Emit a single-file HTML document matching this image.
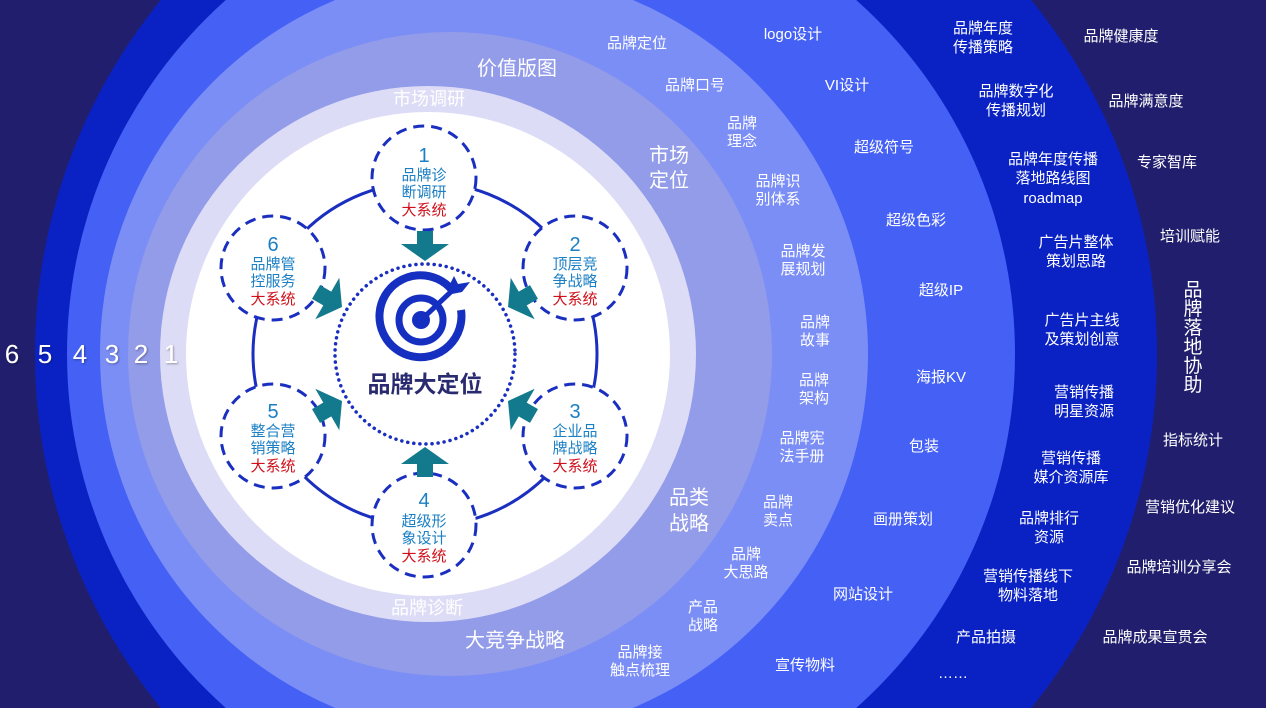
<!DOCTYPE html>
<html><head><meta charset="utf-8"><style>
html,body{margin:0;padding:0;background:#211f6d;width:1266px;height:708px;overflow:hidden;}
svg{display:block;font-family:"Liberation Sans","Noto Sans CJK SC",sans-serif;}
.w{fill:#fff;font-size:15px;text-anchor:middle;}
.b{fill:#fff;font-size:20px;text-anchor:middle;}
.n{fill:#1a7fc4;text-anchor:middle;}
.r{fill:#d0101a;font-size:15px;text-anchor:middle;}
.num{fill:#fff;font-size:26px;text-anchor:middle;}
</style></head><body>
<svg width="1266" height="708" viewBox="0 0 1266 708">
<defs>
<filter id="sh"><feDropShadow dx="1" dy="1" stdDeviation="1" flood-color="#000" flood-opacity="0.35"/></filter>
<g id="arr"><rect x="-30" y="-8" width="14" height="16" fill="#127a8c"/><polygon points="-17,-24 0,0 -17,24" fill="#127a8c"/></g>
</defs>
<rect width="1266" height="708" fill="#211f6d"/>
<circle cx="596" cy="354" r="561" fill="#0a22c4"/>
<circle cx="541" cy="354" r="474" fill="#4560f5"/>
<circle cx="484" cy="354" r="384" fill="#7b8ef6"/>
<circle cx="450" cy="354" r="322" fill="#939ce8"/>
<circle cx="428" cy="354" r="268" fill="#dddcf6"/>
<circle cx="428" cy="354" r="242" fill="#ffffff"/>

<g filter="url(#sh)">
<text class="num" x="12" y="363">6</text><text class="num" x="45" y="363">5</text>
<text class="num" x="80" y="363">4</text><text class="num" x="112" y="363">3</text>
<text class="num" x="141" y="363">2</text><text class="num" x="171" y="363">1</text>
</g>

<circle cx="425" cy="354" r="172" fill="none" stroke="#1a2fc0" stroke-width="3"/>
<circle cx="425" cy="354" r="90" fill="#fff" stroke="#1a2fc0" stroke-width="3.5" stroke-dasharray="0.1 6" stroke-linecap="round"/>

<g fill="#fff" stroke="#1a2fc0" stroke-width="3" stroke-dasharray="11 7">
<circle cx="424" cy="178" r="52"/><circle cx="575" cy="268" r="52"/><circle cx="575" cy="436" r="52"/>
<circle cx="424" cy="525" r="52"/><circle cx="273" cy="436" r="52"/><circle cx="273" cy="268" r="52"/>
</g>
<g>
<text class="n" x="424" y="162" font-size="20">1</text><text class="n" x="424" y="180" font-size="15">品牌诊</text><text class="n" x="424" y="197" font-size="15">断调研</text><text class="r" x="424" y="215">大系统</text>
<text class="n" x="575" y="251" font-size="20">2</text><text class="n" x="575" y="269" font-size="15">顶层竞</text><text class="n" x="575" y="286" font-size="15">争战略</text><text class="r" x="575" y="304">大系统</text>
<text class="n" x="575" y="418" font-size="20">3</text><text class="n" x="575" y="436" font-size="15">企业品</text><text class="n" x="575" y="453" font-size="15">牌战略</text><text class="r" x="575" y="471">大系统</text>
<text class="n" x="424" y="507" font-size="20">4</text><text class="n" x="424" y="526" font-size="15">超级形</text><text class="n" x="424" y="543" font-size="15">象设计</text><text class="r" x="424" y="561">大系统</text>
<text class="n" x="273" y="418" font-size="20">5</text><text class="n" x="273" y="436" font-size="15">整合营</text><text class="n" x="273" y="453" font-size="15">销策略</text><text class="r" x="273" y="471">大系统</text>
<text class="n" x="273" y="251" font-size="20">6</text><text class="n" x="273" y="269" font-size="15">品牌管</text><text class="n" x="273" y="286" font-size="15">控服务</text><text class="r" x="273" y="304">大系统</text>
</g>

<use href="#arr" transform="translate(425,261) rotate(90)"/>
<use href="#arr" transform="translate(425,447) rotate(-90)"/>
<use href="#arr" transform="translate(508,307) rotate(150)"/>
<use href="#arr" transform="translate(508,401) rotate(-150)"/>
<use href="#arr" transform="translate(342,307) rotate(30)"/>
<use href="#arr" transform="translate(342,401) rotate(-30)"/>

<g fill="none" stroke="#1530c0">
<path d="M452,290 A41,41 0 1 0 461,310" stroke-width="8"/>
<circle cx="421" cy="320" r="22" stroke-width="7"/>
</g>
<circle cx="421" cy="320" r="9" fill="#1530c0"/>
<line x1="421" y1="320" x2="456" y2="287" stroke="#1530c0" stroke-width="5"/>
<polygon points="448,288 454,276 458,284 470,282 462,292 452,294" fill="#1530c0"/>
<text x="425" y="392" text-anchor="middle" font-size="23" font-weight="bold" fill="#2a2a70">品牌大定位</text>

<text class="b" x="517" y="75">价值版图</text>
<text x="429" y="105" text-anchor="middle" font-size="18" fill="#fff">市场调研</text>
<text class="b" x="669" y="162">市场</text><text class="b" x="669" y="187">定位</text>
<text class="b" x="689" y="504">品类</text><text class="b" x="689" y="530">战略</text>
<text x="427" y="614" text-anchor="middle" font-size="18" fill="#fff">品牌诊断</text>
<text class="b" x="515" y="647">大竞争战略</text>

<g class="w">
<text x="637" y="48">品牌定位</text>
<text x="695" y="90">品牌口号</text>
<text x="742" y="128">品牌</text><text x="742" y="146">理念</text>
<text x="778" y="186">品牌识</text><text x="778" y="204">别体系</text>
<text x="803" y="256">品牌发</text><text x="803" y="274">展规划</text>
<text x="815" y="327">品牌</text><text x="815" y="345">故事</text>
<text x="814" y="385">品牌</text><text x="814" y="403">架构</text>
<text x="802" y="443">品牌宪</text><text x="802" y="461">法手册</text>
<text x="778" y="507">品牌</text><text x="778" y="525">卖点</text>
<text x="746" y="559">品牌</text><text x="746" y="577">大思路</text>
<text x="703" y="612">产品</text><text x="703" y="630">战略</text>
<text x="640" y="657">品牌接</text><text x="640" y="675">触点梳理</text>

<text x="793" y="39">logo设计</text>
<text x="847" y="90">VI设计</text>
<text x="884" y="152">超级符号</text>
<text x="916" y="225">超级色彩</text>
<text x="941" y="295">超级IP</text>
<text x="941" y="382">海报KV</text>
<text x="924" y="451">包装</text>
<text x="903" y="524">画册策划</text>
<text x="863" y="599">网站设计</text>
<text x="805" y="670">宣传物料</text>

<text x="983" y="33">品牌年度</text><text x="983" y="52">传播策略</text>
<text x="1016" y="96">品牌数字化</text><text x="1016" y="115">传播规划</text>
<text x="1053" y="164">品牌年度传播</text><text x="1053" y="183">落地路线图</text><text x="1053" y="203">roadmap</text>
<text x="1076" y="247">广告片整体</text><text x="1076" y="266">策划思路</text>
<text x="1082" y="325">广告片主线</text><text x="1082" y="344">及策划创意</text>
<text x="1084" y="397">营销传播</text><text x="1084" y="416">明星资源</text>
<text x="1071" y="463">营销传播</text><text x="1071" y="482">媒介资源库</text>
<text x="1049" y="523">品牌排行</text><text x="1049" y="542">资源</text>
<text x="1028" y="581">营销传播线下</text><text x="1028" y="600">物料落地</text>
<text x="986" y="642">产品拍摄</text>
<text x="953" y="678">……</text>

<text x="1121" y="41">品牌健康度</text>
<text x="1146" y="106">品牌满意度</text>
<text x="1167" y="167">专家智库</text>
<text x="1190" y="241">培训赋能</text>
<text x="1193" y="445">指标统计</text>
<text x="1190" y="512">营销优化建议</text>
<text x="1179" y="572">品牌培训分享会</text>
<text x="1155" y="642">品牌成果宣贯会</text>
</g>
<g fill="#fff" font-size="19" text-anchor="middle">
<text x="1193" y="296">品</text><text x="1193" y="315">牌</text><text x="1193" y="334">落</text>
<text x="1193" y="353">地</text><text x="1193" y="372">协</text><text x="1193" y="391">助</text>
</g>
</svg>
</body></html>
